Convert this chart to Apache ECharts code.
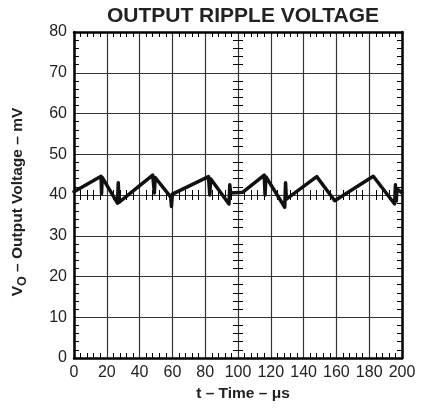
<!DOCTYPE html>
<html>
<head>
<meta charset="utf-8">
<script src="https://cdn.jsdelivr.net/npm/echarts@6/dist/echarts.min.js"></script>
<style>
html,body{margin:0;padding:0;background:#fff;}
#chart{width:423px;height:417px;}
</style>
</head>
<body>
<div id="chart"></div>
<script>
var titleText = 'OUTPUT RIPPLE VOLTAGE';
var xName = 't – Time – μs';
var timeUs = [0, 16.5, 16.8, 17.2, 26.5, 27.0, 27.4, 48.0, 49.0, 49.5, 59.0, 59.4, 60.0, 82.0, 82.8, 83.3, 94.5, 95.0, 95.5, 103.0, 116.0, 116.5, 117.0, 128.5, 129.0, 129.5, 148.0, 159.0, 182.5, 195.5, 196.0, 196.5, 197.0, 200.0];
var rippleMv = [40.8, 44.6, 40.3, 44.3, 38.0, 43.0, 38.2, 44.9, 40.5, 44.3, 39.5, 37.2, 40.2, 44.5, 40.0, 44.0, 37.8, 42.5, 40.5, 40.7, 44.9, 40.0, 44.5, 37.0, 43.0, 39.0, 44.5, 38.6, 44.6, 37.8, 42.5, 38.5, 41.5, 40.5];
var xMin = 0, xMax = 200, xStep = 20;
var yMin = 0, yMax = 80, yStep = 10;

var data = timeUs.map(function (t, i) { return [t, rippleMv[i]]; });
var font = 'Liberation Sans, Arial, sans-serif';
var gridColor = '#333';

function xa(extra) {
  var base = {
    type: 'value', min: xMin, max: xMax, interval: xStep, gridIndex: 0,
    axisLine: {show: false},
    axisTick: {show: false, inside: true},
    minorTick: {show: true, splitNumber: 5, length: 5, lineStyle: {color: '#000', width: 1}},
    axisLabel: {show: false},
    splitLine: {show: false}
  };
  return Object.assign(base, extra);
}
function ya(extra) {
  var base = {
    type: 'value', min: yMin, max: yMax, interval: yStep, gridIndex: 0,
    axisLine: {show: false},
    axisTick: {show: false, inside: true},
    minorTick: {show: true, splitNumber: 5, length: 5, lineStyle: {color: '#000', width: 1}},
    axisLabel: {show: false},
    splitLine: {show: false}
  };
  return Object.assign(base, extra);
}

var chart = echarts.init(document.getElementById('chart'), null, {renderer: 'canvas'});
chart.setOption({
  animation: false,
  backgroundColor: '#fff',
  title: {
    text: titleText, left: 238, top: 1, textAlign: 'center',
    textStyle: {fontFamily: font, fontWeight: 'bold', fontSize: 21, color: '#222'}
  },
  grid: {left: 74, right: 21, top: 32, bottom: 59, outerBoundsMode: 'none', containLabel: false},
  xAxis: [
    xa({
      position: 'bottom',
      axisLine: {show: true, onZero: false, lineStyle: {color: '#000', width: 2.5}},
      axisLabel: {show: true, fontFamily: font, fontSize: 16, color: '#222', margin: 7},
      splitLine: {show: true, lineStyle: {color: gridColor, width: 1.2}},
      name: xName, nameLocation: 'middle', nameGap: 27,
      nameTextStyle: {fontFamily: font, fontWeight: 'bold', fontSize: 15.5, color: '#222', padding: [0, 0, 0, 10]}
    }),
    xa({position: 'top', axisLine: {show: true, onZero: false, lineStyle: {color: '#000', width: 2.5}}}),
    xa({position: 'bottom', offset: -163, axisLine: {show: false, onZero: false}}),
    xa({position: 'bottom', offset: -163, axisLine: {show: false, onZero: false}, axisTick: {show: false, inside: false}})
  ],
  yAxis: [
    ya({
      position: 'left',
      axisLine: {show: true, onZero: false, lineStyle: {color: '#000', width: 2.5}},
      axisLabel: {show: true, fontFamily: font, fontSize: 16, color: '#222', margin: 7},
      splitLine: {show: true, lineStyle: {color: gridColor, width: 1.2}},
      name: '{b|V}{s|O}{b| – Output Voltage – mV}', nameLocation: 'middle', nameGap: 45,
      nameTextStyle: {
        padding: [0, 14, 0, 0],
        rich: {
          b: {fontFamily: font, fontWeight: 'bold', fontSize: 15.5, color: '#222', lineHeight: 22, verticalAlign: 'middle'},
          s: {fontFamily: font, fontWeight: 'bold', fontSize: 12.5, color: '#222', lineHeight: 22, verticalAlign: 'bottom'}
        }
      }
    }),
    ya({position: 'right', axisLine: {show: true, onZero: false, lineStyle: {color: '#000', width: 2.5}}}),
    ya({position: 'left', offset: -164, axisLine: {show: false, onZero: false}}),
    ya({position: 'left', offset: -164, axisLine: {show: false, onZero: false}, axisTick: {show: false, inside: false}})
  ],
  series: [{
    type: 'line', xAxisIndex: 0, yAxisIndex: 0, data: data,
    showSymbol: false, symbol: 'none', clip: true,
    lineStyle: {color: '#111', width: 3.5, join: 'round', cap: 'round'}
  }]
});
</script>
</body>
</html>
